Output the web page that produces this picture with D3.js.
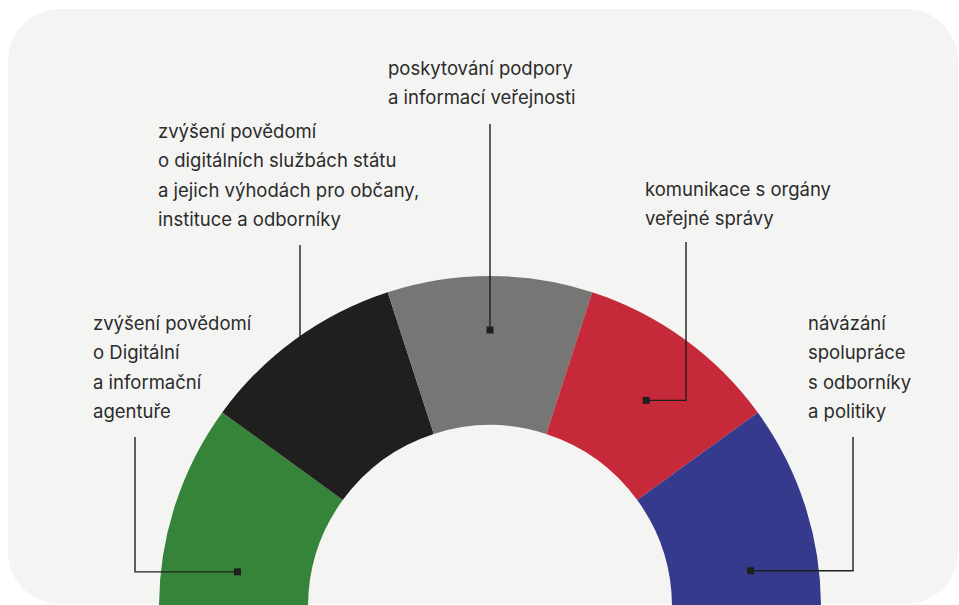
<!DOCTYPE html>
<html>
<head>
<meta charset="utf-8">
<script src="https://cdn.jsdelivr.net/npm/d3@7"></script>
<style>
  html, body { margin: 0; padding: 0; background: #ffffff; }
  svg { display: block; }
  text { font-family: Inter, "Open Sans", sans-serif; }
</style>
</head>
<body>
<svg id="chart" width="959" height="605"></svg>
<script>
// ---- data ----
const categories = [
  "zvýšení povědomí o Digitální a informační agentuře",
  "zvýšení povědomí o digitálních službách státu a jejich výhodách pro občany, instituce a odborníky",
  "poskytování podpory a informací veřejnosti",
  "komunikace s orgány veřejné správy",
  "návázání spolupráce s odborníky a politiky"
];
const values = [1, 1, 1, 1, 1];
const labelLines = [
  ["zvýšení povědomí", "o Digitální", "a informační", "agentuře"],
  ["zvýšení povědomí", "o digitálních službách státu", "a jejich výhodách pro občany,", "instituce a odborníky"],
  ["poskytování podpory", "a informací veřejnosti"],
  ["komunikace s orgány", "veřejné správy"],
  ["návázání", "spolupráce", "s odborníky", "a politiky"]
];
const colors = ["#368439", "#1f1f1e", "#767674", "#c5293a", "#353a8c"];

// ---- layout (annotation placement) ----
const layout = [
  { frac: 0.22, r: 255, elbowX: 135, lineTop: 437, textX: 93,  firstBaseline: 330 },
  { frac: 0.36, r: 290, elbowX: 300, lineTop: 245, textX: 158, firstBaseline: 138 },
  { frac: 0.50, r: 277, elbowX: 490, lineTop: 124, textX: 388, firstBaseline: 75 },
  { frac: 0.53, r: 259, elbowX: 686, lineTop: 242, textX: 645, firstBaseline: 196 },
  { frac: 0.78, r: 263, elbowX: 853, lineTop: 437, textX: 808, firstBaseline: 330 }
];

const cx = 490, cy = 607, outerR = 331, innerR = 182;
const lineH = 29.3;

const svg = d3.select("#chart");

svg.append("rect")
  .attr("x", 8).attr("y", 9)
  .attr("width", 950).attr("height", 595)
  .attr("rx", 52).attr("ry", 52)
  .attr("fill", "#f4f5f2");

const pie = d3.pie().sort(null).value(d => d)
  .startAngle(-Math.PI / 2).endAngle(Math.PI / 2);
const arcs = pie(values);
const arc = d3.arc().innerRadius(innerR).outerRadius(outerR);

const g = svg.append("g").attr("transform", `translate(${cx},${cy})`);
g.selectAll("path.seg")
  .data(arcs)
  .join("path")
  .attr("class", "seg")
  .attr("d", arc)
  .attr("fill", (d, i) => colors[i]);

const ink = "#1f1f1e";
arcs.forEach((a, i) => {
  const L = layout[i];
  const ang = a.startAngle + L.frac * (a.endAngle - a.startAngle);
  const mx = cx + L.r * Math.sin(ang);
  const my = cy - L.r * Math.cos(ang);
  const path = d3.path();
  path.moveTo(L.elbowX, L.lineTop);
  path.lineTo(L.elbowX, my);
  if (Math.abs(mx - L.elbowX) >= 1) path.lineTo(mx, my);
  svg.append("path")
    .attr("d", path.toString())
    .attr("fill", "none")
    .attr("stroke", ink)
    .attr("stroke-width", 1.4);
  svg.append("rect")
    .attr("x", mx - 3.5).attr("y", my - 3.5)
    .attr("width", 7).attr("height", 7)
    .attr("fill", ink);

  const t = svg.append("text")
    .attr("x", L.textX)
    .attr("y", L.firstBaseline)
    .attr("fill", "#2b2b2b")
    .style("font-size", "18.5px");
  labelLines[i].forEach((ln, j) => {
    t.append("tspan")
      .attr("x", L.textX)
      .attr("y", L.firstBaseline + j * lineH)
      .text(ln);
  });
});
</script>
</body>
</html>
